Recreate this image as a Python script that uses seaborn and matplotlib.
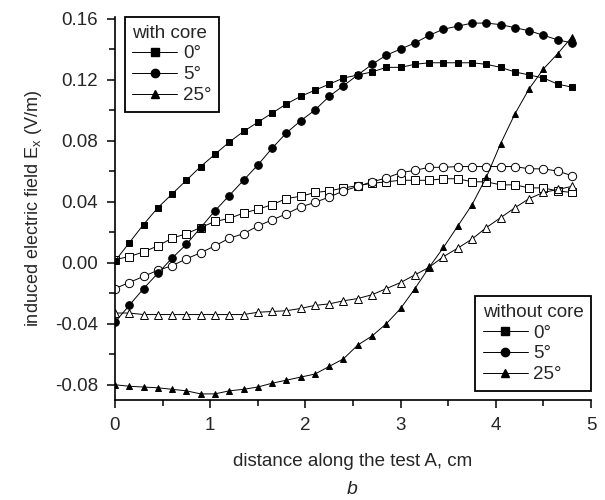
import numpy as np
import matplotlib
matplotlib.use('Agg')
import matplotlib.pyplot as plt
from matplotlib.lines import Line2D
from matplotlib.ticker import MultipleLocator
import seaborn as sns

# distance along the test line (cm)
distance = [0.0, 0.15, 0.3, 0.45, 0.6, 0.75, 0.9, 1.05, 1.2, 1.35, 1.5,
            1.65, 1.8, 1.95, 2.1, 2.25, 2.4, 2.55, 2.7, 2.85, 3.0,
            3.15, 3.3, 3.45, 3.6, 3.75, 3.9, 4.05, 4.2, 4.35, 4.5, 4.65, 4.8]

# filled markers
core_0 = [0.001, 0.013, 0.025, 0.036, 0.045, 0.054, 0.063, 0.071, 0.079, 0.086, 0.092,
          0.098, 0.104, 0.109, 0.113, 0.117, 0.121, 0.123, 0.125, 0.128, 0.128,
          0.130, 0.131, 0.131, 0.131, 0.131, 0.130, 0.128, 0.125, 0.123, 0.121, 0.117, 0.115]
core_5 = [-0.039, -0.028, -0.017, -0.007, 0.003, 0.012, 0.023, 0.034, 0.044, 0.054, 0.064,
          0.075, 0.085, 0.093, 0.100, 0.109, 0.116, 0.123, 0.130, 0.136, 0.140,
          0.144, 0.149, 0.153, 0.155, 0.157, 0.157, 0.156, 0.154, 0.152, 0.149, 0.146, 0.144]
core_25 = [-0.080, -0.081, -0.0815, -0.082, -0.083, -0.084, -0.086, -0.086, -0.084, -0.083, -0.0815,
           -0.079, -0.077, -0.075, -0.073, -0.068, -0.063, -0.054, -0.048, -0.040, -0.030,
           -0.017, -0.003, 0.010, 0.024, 0.038, 0.056, 0.078, 0.0975, 0.114, 0.127, 0.137, 0.148]

# open markers
nocore_0 = [0.002, 0.004, 0.007, 0.011, 0.016, 0.019, 0.023, 0.027, 0.029, 0.0325, 0.035,
            0.038, 0.042, 0.0435, 0.046, 0.047, 0.049, 0.0505, 0.052, 0.053, 0.054,
            0.054, 0.054, 0.055, 0.055, 0.053, 0.053, 0.051, 0.051, 0.049, 0.049, 0.047, 0.046]
nocore_5 = [-0.017, -0.013, -0.009, -0.005, -0.002, 0.0025, 0.0065, 0.011, 0.016, 0.019, 0.024,
            0.028, 0.032, 0.0365, 0.0395, 0.043, 0.047, 0.050, 0.053, 0.0555, 0.059,
            0.0605, 0.0625, 0.0625, 0.063, 0.063, 0.063, 0.063, 0.063, 0.0615, 0.0615, 0.060, 0.057]
nocore_25 = [-0.033, -0.033, -0.034, -0.034, -0.034, -0.034, -0.034, -0.034, -0.034, -0.034, -0.0325,
             -0.032, -0.0315, -0.030, -0.028, -0.027, -0.025, -0.0235, -0.021, -0.017, -0.013,
             -0.008, -0.003, 0.004, 0.0095, 0.0155, 0.023, 0.0295, 0.036, 0.042, 0.046, 0.048, 0.050]

angle_labels = ['0°', '5°', '25°']
markers = ['s', 'o', '^']
msizes = [5, 5.5, 5]

sns.set_style('ticks')
plt.rcParams['font.family'] = ['Liberation Sans', 'DejaVu Sans']
plt.rcParams['mathtext.fontset'] = 'custom'
plt.rcParams['mathtext.rm'] = 'Liberation Sans'

fig = plt.figure(figsize=(6.05, 5.0), dpi=100)
ax = fig.add_axes([0.190, 0.2, 0.787, 0.766])

for ys, m, ms in zip([nocore_0, nocore_5, nocore_25], markers, msizes):
    sns.lineplot(x=distance, y=ys, ax=ax, color='k', lw=0.7, marker=m, markersize=ms + 0.5,
                 markerfacecolor='white', markeredgecolor='k', markeredgewidth=0.7)
for ys, m, ms in zip([core_0, core_5, core_25], markers, msizes):
    sns.lineplot(x=distance, y=ys, ax=ax, color='k', lw=0.7, marker=m, markersize=ms,
                 markerfacecolor='k', markeredgecolor='k', markeredgewidth=0.7)

ax.set_xlim(0, 5)
ax.set_ylim(-0.09, 0.161)
ax.xaxis.set_major_locator(MultipleLocator(1))
ax.xaxis.set_minor_locator(MultipleLocator(0.5))
ax.yaxis.set_major_locator(MultipleLocator(0.04))
ax.yaxis.set_minor_locator(MultipleLocator(0.02))
ax.yaxis.set_major_formatter(plt.FuncFormatter(lambda v, p: f'{v:.2f}'))
ax.tick_params(which='major', direction='out', length=6, width=1.1, labelsize=13.5, pad=6, color='k')
ax.tick_params(which='minor', direction='out', length=4.5, width=1.1, color='k')

for side in ['top', 'right']:
    ax.spines[side].set_visible(False)
for side in ['left', 'bottom']:
    ax.spines[side].set_linewidth(1.2)
    ax.spines[side].set_color('k')

ax.set_xlabel('distance along the test A, cm', fontsize=13.5, labelpad=14)
ax.set_ylabel('induced electric field E$_{\\mathregular{x}}$ (V/m)', fontsize=13, labelpad=8)
fig.text(0.582, 0.02, 'b', fontsize=14, style='italic', ha='center', va='center')

handles = [Line2D([], [], color='k', lw=0.7, marker=m, markersize=ms + 0.5, markerfacecolor='k',
                  markeredgecolor='k') for m, ms in zip(markers, msizes)]
leg_kw = dict(fontsize=13.5, title_fontsize=13.5, frameon=True, fancybox=False, framealpha=1,
              edgecolor='k', handlelength=2.4, handletextpad=0.3, labelspacing=0.2,
              borderpad=0.4, borderaxespad=0, alignment='left')
leg1 = ax.legend(handles, angle_labels, title='with core', loc='upper left',
                 bbox_to_anchor=(0.021, 1.0), **leg_kw)
leg1.get_frame().set_linewidth(1.3)
ax.add_artist(leg1)
leg2 = ax.legend(handles, angle_labels, title='without core', loc='lower right',
                 bbox_to_anchor=(1.0, 0.024), **leg_kw)
leg2.get_frame().set_linewidth(1.3)

fig.savefig('out.png', dpi=100)
